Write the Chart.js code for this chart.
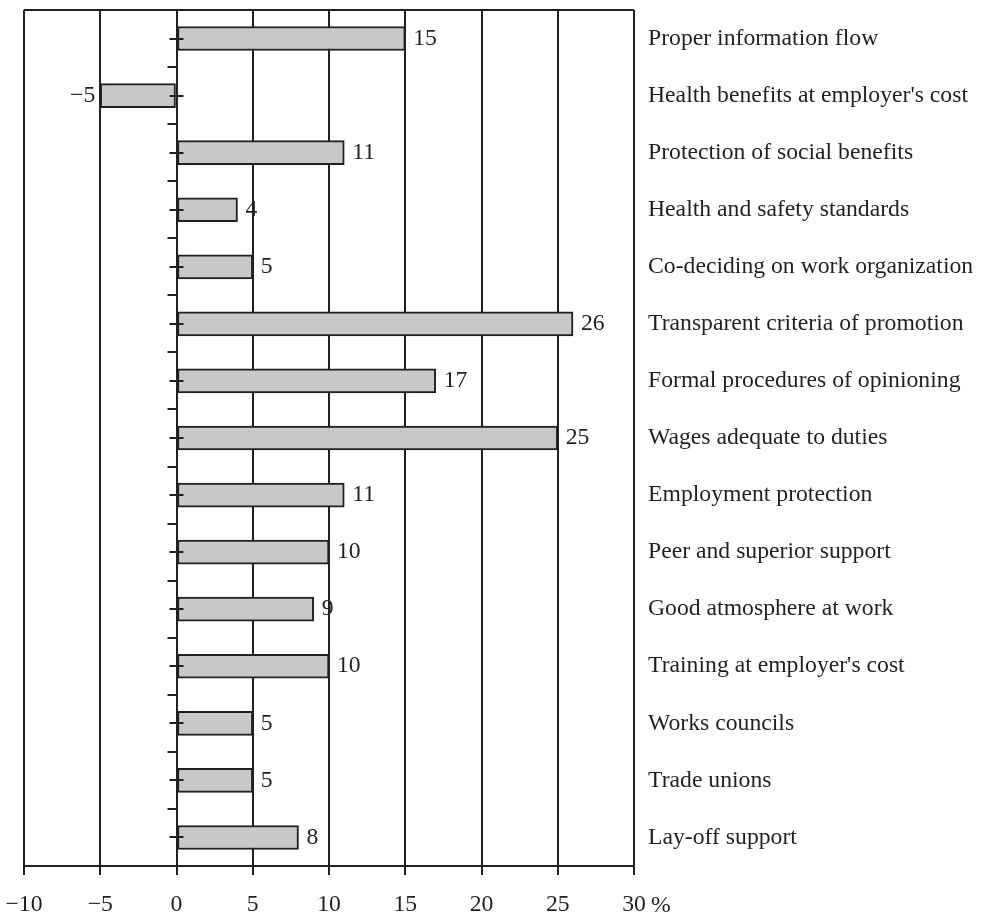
<!DOCTYPE html>
<html>
<head>
<meta charset="utf-8">
<style>
  html, body { margin: 0; padding: 0; background: #ffffff; }
  #wrap { width: 984px; height: 919px; position: relative; }
</style>
<script src="https://cdn.jsdelivr.net/npm/chart.js@4/dist/chart.umd.min.js"></script>
</head>
<body>
<div id="wrap"><canvas id="chart" width="984" height="919"></canvas></div>
<script>
// Categories, top to bottom
const categories = [
  "Proper information flow",
  "Health benefits at employer's cost",
  "Protection of social benefits",
  "Health and safety standards",
  "Co-deciding on work organization",
  "Transparent criteria of promotion",
  "Formal procedures of opinioning",
  "Wages adequate to duties",
  "Employment protection",
  "Peer and superior support",
  "Good atmosphere at work",
  "Training at employer's cost",
  "Works councils",
  "Trade unions",
  "Lay-off support"
];

// Percentage values per category
const values = [15, -5, 11, 4, 5, 26, 17, 25, 11, 10, 9, 10, 5, 5, 8];

// Value-axis range and step
const xMin = -10;
const xMax = 30;
const xStep = 5;
const unitLabel = "%";

const INK = '#231f20';
const FONT = "'Liberation Serif', 'Times New Roman', serif";
const FONT_SIZE = 23.7;

const fmt = v => (v < 0 ? '\u2212' + Math.abs(v) : String(v));

// Frame top edge, tick marks on the zero line, bar value labels and unit sign
const decorations = {
  id: 'decorations',
  afterDatasetsDraw(chart) {
    const { ctx, chartArea, scales } = chart;
    const xs = scales.x, ys = scales.y;
    ctx.save();
    ctx.strokeStyle = INK;
    ctx.lineWidth = 2;
    // top edge of the frame
    ctx.beginPath();
    ctx.moveTo(chartArea.left, chartArea.top);
    ctx.lineTo(chartArea.right, chartArea.top);
    ctx.stroke();

    // tick marks along the zero line
    const x0 = xs.getPixelForValue(0);
    for (let i = 0; i <= categories.length; i++) {
      const y = Math.round(ys.getPixelForValue(i - 0.5));
      ctx.beginPath();
      ctx.moveTo(x0 - 9, y);
      ctx.lineTo(x0, y);
      ctx.stroke();
    }
    for (let i = 0; i < categories.length; i++) {
      const y = Math.round(ys.getPixelForValue(i));
      ctx.beginPath();
      ctx.moveTo(x0 - 7, y);
      ctx.lineTo(x0 + 7, y);
      ctx.stroke();
    }

    // value labels at the bar ends
    ctx.fillStyle = INK;
    ctx.font = FONT_SIZE + 'px ' + FONT;
    ctx.textBaseline = 'middle';
    const meta = chart.getDatasetMeta(0);
    meta.data.forEach((bar, i) => {
      const v = values[i];
      if (v < 0) {
        ctx.textAlign = 'right';
        ctx.fillText(fmt(v), bar.x - 5, bar.y);
      } else {
        ctx.textAlign = 'left';
        ctx.fillText(fmt(v), bar.x + 8, bar.y);
      }
    });

    // unit sign after the last axis label
    const lastX = xs.getPixelForValue(xMax);
    ctx.textAlign = 'left';
    ctx.fillText(unitLabel, lastX + 17, xs.top + 40);
    ctx.restore();
  }
};

new Chart(document.getElementById('chart'), {
  type: 'bar',
  data: {
    labels: categories,
    datasets: [{
      data: values,
      backgroundColor: '#c8c8c8',
      borderColor: INK,
      borderWidth: 2,
      borderSkipped: false,
      barThickness: 24
    }]
  },
  options: {
    indexAxis: 'y',
    responsive: false,
    animation: false,
    devicePixelRatio: 1,
    layout: { padding: { top: 10, left: 24, right: 0, bottom: 0 } },
    plugins: {
      legend: { display: false },
      tooltip: { enabled: false }
    },
    scales: {
      x: {
        type: 'linear',
        min: xMin,
        max: xMax,
        afterFit(scale) {
          scale.height = 53;
          scale.paddingLeft = 0;
          scale.paddingRight = 0;
        },
        ticks: {
          stepSize: xStep,
          padding: 16,
          color: INK,
          font: { family: FONT, size: FONT_SIZE },
          callback: v => fmt(v)
        },
        grid: {
          color: INK,
          lineWidth: 2,
          tickLength: 9,
          drawTicks: true
        },
        border: { display: true, color: INK, width: 2 }
      },
      y: {
        type: 'category',
        position: 'right',
        offset: true,
        afterFit(scale) {
          scale.width = 350;
          scale.paddingTop = 0;
          scale.paddingBottom = 0;
        },
        ticks: {
          padding: 14,
          color: INK,
          font: { family: FONT, size: FONT_SIZE }
        },
        grid: { display: false, drawTicks: false },
        border: { display: false }
      }
    }
  },
  plugins: [decorations]
});
</script>
</body>
</html>
